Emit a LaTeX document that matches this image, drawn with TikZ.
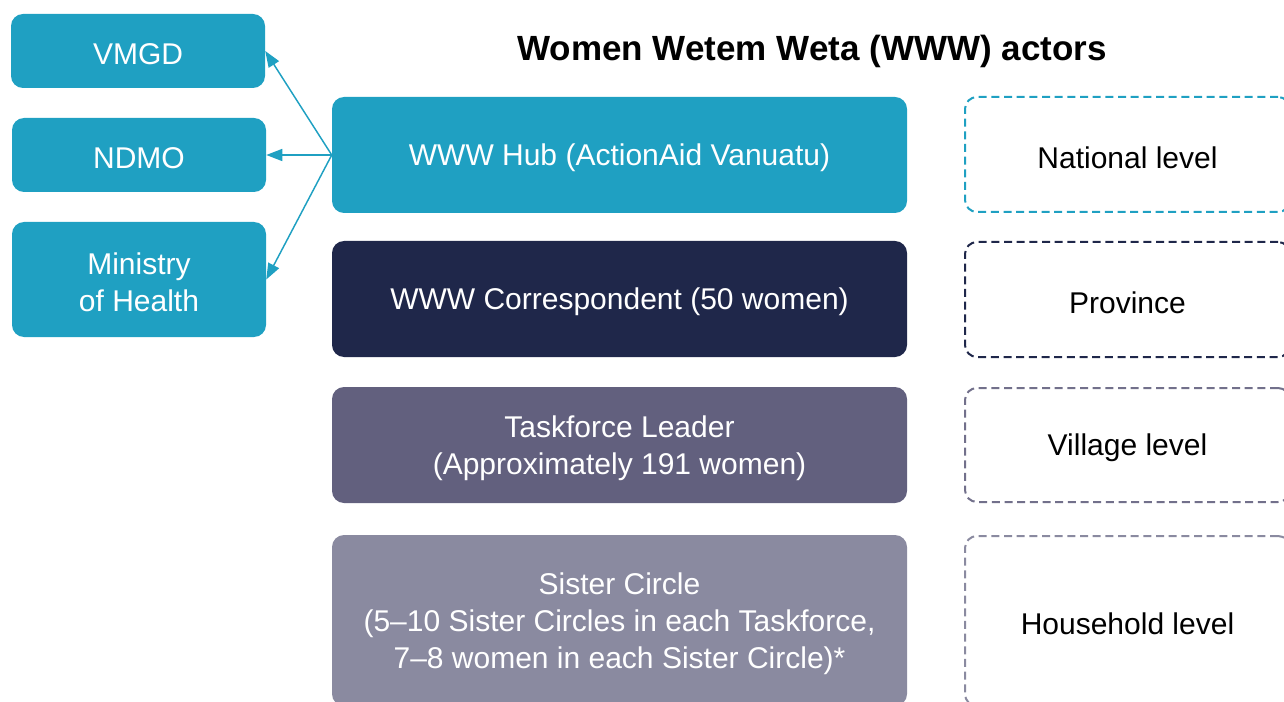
\documentclass[tikz,border=0pt]{standalone}
\usepackage{fontspec}
\setmainfont{Liberation Sans}
\usetikzlibrary{arrows.meta}
\definecolor{teal1}{RGB}{31,160,194}
\definecolor{navy1}{RGB}{31,39,74}
\definecolor{slate1}{RGB}{98,96,126}
\definecolor{grey1}{RGB}{138,138,160}
\tikzset{
  txt/.style={inner sep=0pt, align=center, yshift=-2.25pt,
    font=\fontsize{22.5pt}{27.75pt}\selectfont},
  wtxt/.style={txt, text=white},
  fbox/.style={rounded corners=9pt, inner sep=0pt},
  lbox/.style={rounded corners=9pt, inner sep=0pt, dashed,
    dash pattern=on 6pt off 3.5pt, line width=1.5pt, minimum width=243.75pt},
  side/.style={fbox, fill=teal1, minimum width=190.5pt},
  main/.style={fbox, minimum width=431.25pt, minimum height=87pt},
  arr/.style={draw=teal1, line width=1.1pt, -{Triangle[length=12pt,width=9pt]}}
}
\begin{document}
\begin{tikzpicture}[x=0.75pt,y=-0.75pt]
\useasboundingbox (0,0) rectangle (1284,702);
\node[font=\bfseries\fontsize{26.25pt}{30pt}\selectfont] (title) at (812,51) {Women Wetem Weta (WWW) actors};
\node[side, minimum height=55.5pt, label={[wtxt]center:VMGD}] (vmgd) at (138,51) {};
\node[side, minimum height=55.5pt, label={[wtxt]center:NDMO}] (ndmo) at (139,155) {};
\node[side, minimum height=86.25pt, label={[wtxt]center:{Ministry\\of Health}}] (moh) at (139,279.5) {};
\node[main, fill=teal1, label={[wtxt]center:{WWW Hub (ActionAid Vanuatu)}}] (hub) at (619.5,155) {};
\node[main, fill=navy1, label={[wtxt]center:{WWW Correspondent (50 women)}}] (corr) at (619.5,299) {};
\node[main, fill=slate1, label={[wtxt]center:{Taskforce Leader\\(Approximately 191 women)}}] (task) at (619.5,445) {};
\node[main, fill=grey1, minimum height=128.25pt, label={[wtxt]center:{Sister Circle\\(5–10 Sister Circles in each Taskforce,\\7–8 women in each Sister Circle)*}}] (sister) at (619.5,620.5) {};
\node[lbox, draw=teal1, minimum height=86.25pt, label={[txt]center:National level}] (nat) at (1127.5,154.5) {};
\node[lbox, draw=navy1, minimum height=86.25pt, label={[txt]center:Province}] (prov) at (1127.5,299.5) {};
\node[lbox, draw=slate1!90, minimum height=85.5pt, label={[txt]center:Village level}] (vill) at (1127.5,445) {};
\node[lbox, draw=grey1, minimum height=127.5pt, label={[txt]center:Household level}] (house) at (1127.5,621) {};
\draw[arr] (hub.west) -- (vmgd.east);
\draw[arr] (hub.west) -- (ndmo.east);
\draw[arr] (hub.west) -- (moh.east);
\end{tikzpicture}
\end{document}
